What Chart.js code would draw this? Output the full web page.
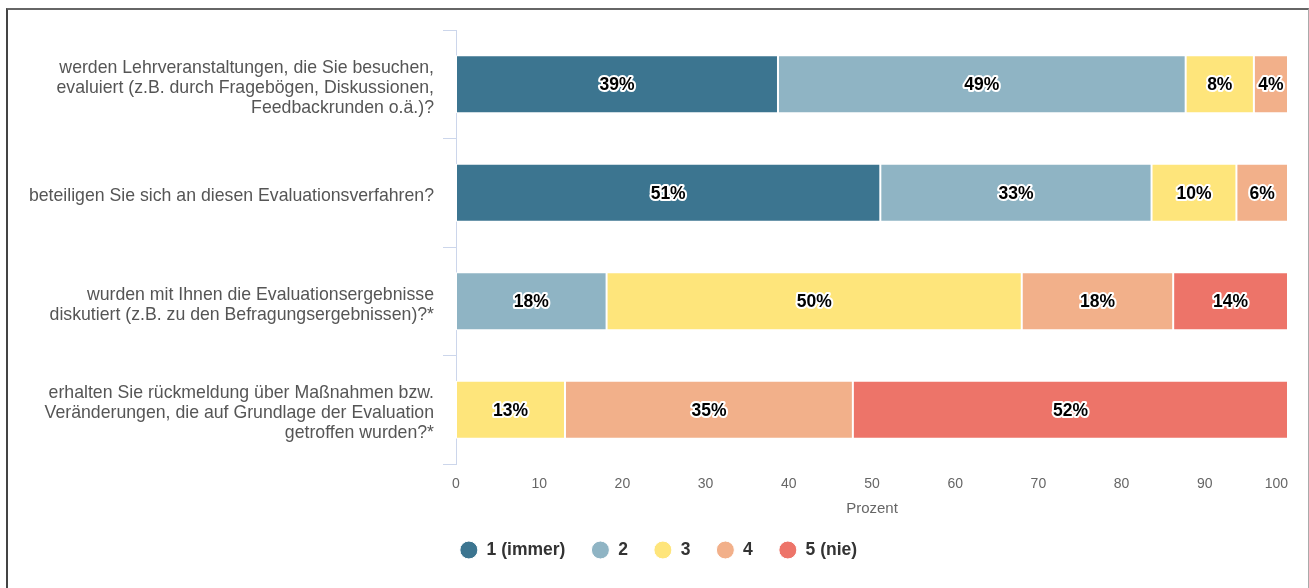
<!DOCTYPE html>
<html>
<head>
<meta charset="utf-8">
<script src="https://cdn.jsdelivr.net/npm/chart.js@4.4.1/dist/chart.umd.min.js"></script>
<style>
  html, body { margin: 0; padding: 0; background: #fff; }
  #wrap { position: relative; width: 1309px; height: 588px; overflow: hidden; }
  #frame { position: absolute; left: 6px; top: 8px; width: 1300px; height: 700px;
           border-left: 2px solid #444; border-top: 2px solid #666; border-right: 1px solid #aaa;
           pointer-events: none; }
  canvas { position: absolute; left: 0; top: 0; }
</style>
</head>
<body>
<div id="wrap">
  <canvas id="c" width="1309" height="588"></canvas>
  <div id="frame"></div>
</div>
<script>
const categories = [
  ["werden Lehrveranstaltungen, die Sie besuchen,", "evaluiert (z.B. durch Fragebögen, Diskussionen,", "Feedbackrunden o.ä.)?"],
  ["beteiligen Sie sich an diesen Evaluationsverfahren?"],
  ["wurden mit Ihnen die Evaluationsergebnisse", "diskutiert (z.B. zu den Befragungsergebnissen)?*"],
  ["erhalten Sie rückmeldung über Maßnahmen bzw.", "Veränderungen, die auf Grundlage der Evaluation", "getroffen wurden?*"]
];
const seriesNames = ["1 (immer)", "2", "3", "4", "5 (nie)"];
const series1 = [38.7, 51.0, null, null];
const series2 = [49.0, 32.6, 18.1, null];
const series3 = [8.2, 10.2, 49.9, 13.1];
const series4 = [4.1, 6.2, 18.2, 34.6];
const series5 = [null, null, 13.8, 52.3];
const seriesColors = ["#3c7590", "#8fb4c4", "#fee57b", "#f2b08a", "#ed7469"];
const axisTitle = "Prozent";

const FONT = "'Liberation Sans', Arial, Helvetica, sans-serif";

const labelPlugin = {
  id: 'segLabels',
  afterDatasetsDraw(chart) {
    const ctx = chart.ctx;
    ctx.save();
    ctx.font = "bold 17.5px " + FONT;
    ctx.textAlign = 'center';
    ctx.textBaseline = 'middle';
    ctx.lineJoin = 'round';
    chart.data.datasets.forEach((ds, di) => {
      const meta = chart.getDatasetMeta(di);
      meta.data.forEach((el, i) => {
        const v = ds.data[i];
        if (v === null || v === undefined) return;
        const p = el.getCenterPoint();
        const t = Math.round(v) + '%';
        ctx.lineWidth = 4;
        ctx.strokeStyle = '#ffffff';
        ctx.strokeText(t, p.x, p.y + 1);
        ctx.fillStyle = '#000000';
        ctx.fillText(t, p.x, p.y + 1);
      });
    });
    ctx.restore();
  }
};

const allSeries = [series1, series2, series3, series4, series5];
const datasets = allSeries.map((d, i) => ({
  label: seriesNames[i],
  data: d,
  backgroundColor: seriesColors[i],
  borderColor: '#ffffff',
  borderWidth: 1,
  borderSkipped: false,
  barPercentage: 0.535,
  categoryPercentage: 1.0
}));

new Chart(document.getElementById('c'), {
  type: 'bar',
  data: { labels: categories, datasets },
  options: {
    indexAxis: 'y',
    responsive: false,
    animation: false,
    layout: { padding: { top: 30, right: 21, bottom: 19.25, left: 29 } },
    scales: {
      x: {
        stacked: true,
        min: 0, max: 100,
        grid: { display: false, drawTicks: false },
        border: { display: false },
        ticks: { stepSize: 10, color: '#666', font: { family: FONT, size: 14 }, padding: 11.6 },
        title: { display: true, text: axisTitle, color: '#666', font: { family: FONT, size: 15, lineHeight: 1 }, padding: { top: 0, bottom: -1.25 } },
        afterFit(s) {
          s.height = 51.25;
          s.paddingLeft = 0;
          s.paddingRight = 0;
          const proto = Object.getPrototypeOf(s);
          s._computeLabelItems = function (area) {
            const items = proto._computeLabelItems.call(this, area);
            const last = items[items.length - 1];
            if (last) {
              last.options.textAlign = 'right';
              last.options.translation[0] = Math.min(last.options.translation[0], this.right);
            }
            return items;
          };
        }
      },
      y: {
        stacked: true,
        grid: { display: true, drawOnChartArea: false, drawTicks: true, tickLength: 13, color: '#ccd6eb', offset: true },
        border: { display: true, color: '#ccd6eb', width: 1 },
        ticks: { color: '#555', font: { family: FONT, size: 17.7, lineHeight: 1.13 }, padding: 9 },
        afterFit(s) {
          s.width = 456 - 29;
          s.paddingTop = 0;
          s.paddingBottom = 0;
          const proto = Object.getPrototypeOf(s);
          s._computeLabelArea = function () {
            return { top: 0, left: 0, bottom: this.chart.height, right: this.right };
          };
          s._computeLabelItems = function (area) {
            const items = proto._computeLabelItems.call(this, area);
            items.forEach(it => { it.options.translation[1] += 3.5; });
            return items;
          };
        }
      }
    },
    plugins: {
      legend: {
        position: 'bottom',
        labels: {
          usePointStyle: true,
          pointStyle: 'circle',
          boxHeight: 12.7,
          boxWidth: 18,
          pointStyleWidth: 18,
          padding: 26,
          color: '#333',
          font: { family: FONT, size: 17.5, weight: 'bold' }
        }
      },
      tooltip: { enabled: false }
    }
  },
  plugins: [labelPlugin]
});
</script>
</body>
</html>
